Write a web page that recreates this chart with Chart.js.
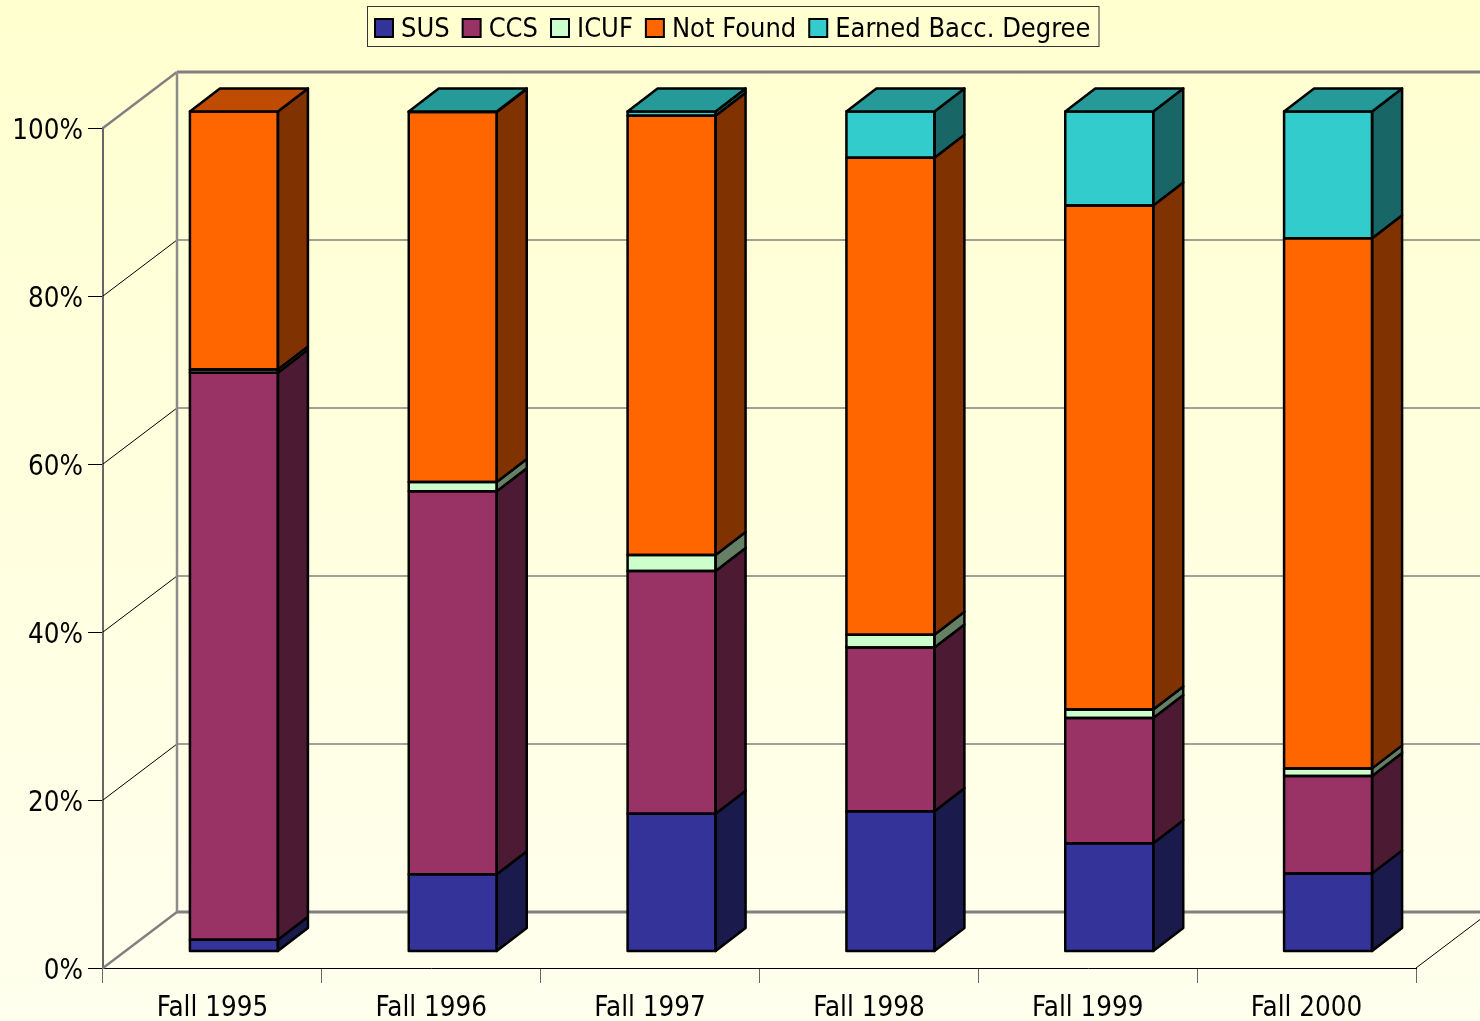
<!DOCTYPE html>
<html>
<head>
<meta charset="utf-8">
<title>Enrollment outcomes by entering cohort</title>
<script src="https://cdn.jsdelivr.net/npm/chart.js@4"></script>
<style>
	html, body { margin: 0; padding: 0; width: 1480px; height: 1021px; overflow: hidden; }
	body { background: linear-gradient(#ffffd0, #ffffee); }
	canvas { display: block; }
</style>
</head>
<body>
<canvas id="chart" width="1480" height="1021"></canvas>
<script>
const categories = ['Fall 1995', 'Fall 1996', 'Fall 1997', 'Fall 1998', 'Fall 1999', 'Fall 2000'];
const sus = [1.4, 9.2, 16.4, 16.7, 12.9, 9.3];
const ccs = [67.5, 45.6, 28.9, 19.5, 14.9, 11.6];
const icuf = [0.4, 1.1, 1.9, 1.5, 1.0, 0.9];
const notFound = [30.7, 44.05, 52.3, 56.8, 60.0, 63.1];
const earned = [0, 0.05, 0.5, 5.5, 11.2, 15.1];

const FONT = '"DejaVu Sans Condensed", "DejaVu Sans", sans-serif';
const AXIS_FONT_SIZE = 27.5;
const LEGEND_FONT_SIZE = 27;

// face colours for each series: front, side, top
const faces = [
	['#333399', '#1a1a4d', '#262673'],
	['#993366', '#4d1a33', '#73264d'],
	['#ccffcc', '#668066', '#99bf99'],
	['#ff6600', '#803300', '#bf4c00'],
	['#33cccc', '#196666', '#269999'],
];

// depth of the box walls, and how far the bars sit in from the front plane
const WALL_DX = 74;
const WALL_DY = -56;
const BAR_SHIFT_X = 21.5;
const BAR_SHIFT_Y = -16.5;
const BAR_DX = 30;
const BAR_DY = -23;

function line(ctx, x1, y1, x2, y2, color, width) {
	ctx.strokeStyle = color;
	ctx.lineWidth = width;
	ctx.beginPath();
	ctx.moveTo(x1, y1);
	ctx.lineTo(x2, y2);
	ctx.stroke();
}

function poly(ctx, points, fill) {
	ctx.beginPath();
	points.forEach((p, i) => (i ? ctx.lineTo(p[0], p[1]) : ctx.moveTo(p[0], p[1])));
	ctx.closePath();
	ctx.fillStyle = fill;
	ctx.fill();
	ctx.strokeStyle = '#000';
	ctx.lineWidth = 2.5;
	ctx.lineJoin = 'round';
	ctx.stroke();
}

const wallsPlugin = {
	id: 'walls',
	beforeDatasetsDraw(chart) {
		const { ctx, chartArea } = chart;
		const y = chart.scales.y;
		const left = chartArea.left;
		const right = chartArea.right;
		const backX = left + WALL_DX;
		ctx.save();
		y.ticks.forEach((tick) => {
			const py = y.getPixelForValue(tick.value);
			const edge = tick.value === 0 || tick.value === 100;
			line(ctx, left, py, backX, py + WALL_DY, edge ? '#808080' : '#000', edge ? 2.5 : 1);
			line(ctx, backX, py + WALL_DY, right + WALL_DX, py + WALL_DY, '#808080', edge ? 3 : 1.5);
		});
		line(ctx, backX, y.top + WALL_DY, backX, y.bottom + WALL_DY, '#8c8c8c', 2.5);
		line(ctx, right, y.bottom, right + WALL_DX, y.bottom + WALL_DY, '#000', 1);
		ctx.restore();
		// bars stand part of the way into the box
		ctx.save();
		ctx.translate(BAR_SHIFT_X, BAR_SHIFT_Y);
	},
	afterDatasetsDraw(chart) {
		const { ctx } = chart;
		categories.forEach((_, index) => {
			let topSeries = -1;
			chart.data.datasets.forEach((ds, s) => {
				if (ds.data[index] <= 0) {
					return;
				}
				topSeries = s;
				const bar = chart.getDatasetMeta(s).data[index];
				const x1 = bar.x - bar.width / 2;
				const x2 = bar.x + bar.width / 2;
				poly(ctx, [[x2, bar.base], [x2 + BAR_DX, bar.base + BAR_DY], [x2 + BAR_DX, bar.y + BAR_DY], [x2, bar.y]], faces[s][1]);
				ctx.strokeStyle = '#000';
				ctx.lineWidth = 2.5;
				ctx.strokeRect(x1, bar.y, bar.width, bar.base - bar.y);
			});
			const bar = chart.getDatasetMeta(topSeries).data[index];
			const x1 = bar.x - bar.width / 2;
			const x2 = bar.x + bar.width / 2;
			poly(ctx, [[x1, bar.y], [x1 + BAR_DX, bar.y + BAR_DY], [x2 + BAR_DX, bar.y + BAR_DY], [x2, bar.y]], faces[topSeries][2]);
		});
		ctx.restore();
	},
};

// framed legend above the box
const legendPlugin = {
	id: 'framedLegend',
	afterDraw(chart) {
		const { ctx } = chart;
		const boxTop = 6;
		const boxBottom = 46;
		const swatch = 18;
		ctx.save();
		ctx.font = LEGEND_FONT_SIZE + 'px ' + FONT;
		const widths = chart.data.datasets.map((ds) => ctx.measureText(ds.label).width);
		const total = widths.reduce((a, b) => a + b + swatch + 8, 0) + 13 * (widths.length - 1);
		const boxLeft = Math.round(733 - total / 2 - 8);
		ctx.strokeStyle = '#333';
		ctx.lineWidth = 1;
		ctx.strokeRect(boxLeft + 0.5, boxTop + 0.5, total + 16, boxBottom - boxTop);
		let x = boxLeft + 8;
		ctx.textBaseline = 'middle';
		chart.data.datasets.forEach((ds, s) => {
			ctx.fillStyle = faces[s][0];
			ctx.strokeStyle = '#000';
			ctx.lineWidth = 2;
			ctx.fillRect(x, 19, swatch, swatch);
			ctx.strokeRect(x, 19, swatch, swatch);
			x += swatch + 8;
			ctx.fillStyle = '#000';
			ctx.fillText(ds.label, x, 30);
			x += widths[s] + 13;
		});
		ctx.restore();
	},
};

const seriesValues = [sus, ccs, icuf, notFound, earned];
const seriesLabels = ['SUS', 'CCS', 'ICUF', 'Not Found', 'Earned Bacc. Degree'];

new Chart(document.getElementById('chart').getContext('2d'), {
	type: 'bar',
	data: {
		labels: categories,
		datasets: seriesValues.map((data, s) => ({
			label: seriesLabels[s],
			data,
			backgroundColor: faces[s][0],
			borderWidth: 0,
			barThickness: 88,
			clip: false,
		})),
	},
	options: {
		responsive: false,
		animation: false,
		events: [],
		layout: { padding: { top: 128, right: 64, left: 0, bottom: 0 } },
		plugins: {
			legend: { display: false },
			tooltip: { enabled: false },
		},
		scales: {
			x: {
				stacked: true,
				afterFit(scale) {
					scale.height = 53;
				},
				grid: { drawOnChartArea: false, drawTicks: true, tickLength: 15, color: '#666' },
				border: { color: '#000', width: 1 },
				ticks: {
					color: '#000',
					padding: 9,
					maxRotation: 0,
					font: { family: FONT, size: AXIS_FONT_SIZE },
				},
			},
			y: {
				stacked: true,
				min: 0,
				max: 100,
				afterFit(scale) {
					scale.width = 103;
				},
				grid: { drawOnChartArea: false, drawTicks: true, tickLength: 15, color: '#000' },
				border: { color: '#666', width: 2 },
				ticks: {
					stepSize: 20,
					color: '#000',
					padding: 5,
					labelOffset: 4,
					font: { family: FONT, size: AXIS_FONT_SIZE },
					callback: (value) => value + '%',
				},
			},
		},
	},
	plugins: [wallsPlugin, legendPlugin],
});
</script>
</body>
</html>
